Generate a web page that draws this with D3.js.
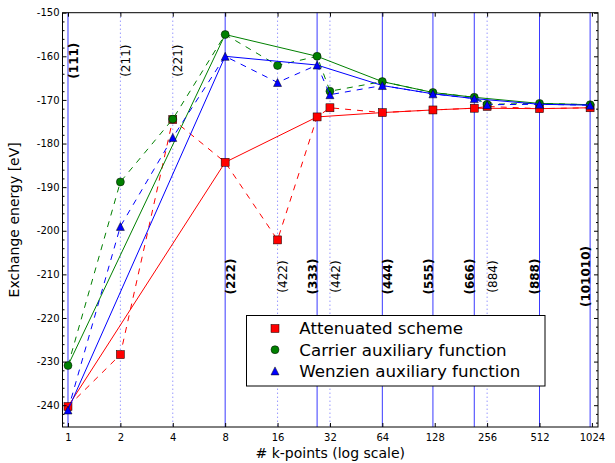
<!DOCTYPE html>
<html>
<head>
<meta charset="utf-8">
<script src="https://cdn.jsdelivr.net/npm/d3@7"></script>
<style>
  body { margin: 0; background: white; }
  text { font-family: "DejaVu Sans", sans-serif; fill: black; }
</style>
</head>
<body>
<div id="chart"></div>
<script>
// k-point meshes, in increasing number of k-points
const kpoints = [1, 2, 4, 8, 16, 27, 32, 64, 125, 216, 256, 512, 1000];
const meshes = ['(111)', '(211)', '(221)', '(222)', '(422)', '(333)', '(442)',
                '(444)', '(555)', '(666)', '(884)', '(888)', '(101010)'];
// cubic meshes get a solid line and a bold label
const cubic = [1, 8, 27, 64, 125, 216, 512, 1000];

// exchange energy [eV] for each mesh
const attenuated = [-240.3, -228.4, -174.5, -184.3, -202.1, -173.9, -171.8,
                    -172.9, -172.3, -171.9, -171.5, -172.0, -171.8];
const carrier    = [-230.9, -188.8, -174.4, -155.0, -162.1, -160.0, -168.0,
                    -165.8, -168.3, -169.4, -171.0, -170.8, -171.1];
const wenzien    = [-241.1, -199.0, -178.6, -160.0, -166.0, -162.0, -168.8,
                    -166.7, -168.6, -169.7, -171.1, -171.0, -171.2];

const seriesNames = ['Attenuated scheme', 'Carrier auxiliary function', 'Wenzien auxiliary function'];

const xTicks = [1, 2, 4, 8, 16, 32, 64, 128, 256, 512, 1024];
const yTicks = d3.range(-240, -149, 10);
const yMinorTicks = d3.range(-244, -149, 2).filter(v => v % 10 !== 0);

const svgWidth = 615;
const svgHeight = 463;

//plot area in pixels
const plot = { left: 62.5, top: 12.7, right: 598, bottom: 427 };

const xScale = d3.scaleLog().base(2).domain([0.93, 1110]).range([plot.left, plot.right]);
const yScale = d3.scaleLinear().domain([-245, -150]).range([plot.bottom, plot.top]);

const colors = ['#ff0000', '#008000', '#0000ff'];
const symbols = ['square', 'circle', 'triangle'];
const allSeries = [attenuated, carrier, wenzien];

const svg = d3.select('#chart')
              .append('svg')
              .attr('width', svgWidth)
              .attr('height', svgHeight);

//vertical lines for each mesh
const isCubic = k => cubic.includes(k);
svg.append('g').selectAll('line')
   .data(kpoints)
   .join('line')
   .attr('x1', d => xScale(d)).attr('x2', d => xScale(d))
   .attr('y1', plot.top).attr('y2', plot.bottom)
   .attr('stroke', d => isCubic(d) ? '#3a3aff' : '#6a6aff')
   .attr('stroke-width', 1)
   .attr('stroke-dasharray', d => isCubic(d) ? null : '1,3');

//mesh labels: small meshes near the top, the others lower down
const leftSide = ['(333)', '(555)', '(666)', '(888)', '(101010)'];
svg.append('g').selectAll('text')
   .data(kpoints)
   .join('text')
   .attr('transform', (d, i) => {
     const dx = leftSide.includes(meshes[i]) ? -4.5 : 5.5;
     const yv = d < 8 ? -161 : -210.5;
     return `translate(${xScale(d) + dx},${yScale(yv)}) rotate(-90)`;
   })
   .attr('text-anchor', 'middle')
   .attr('dy', '0.35em')
   .style('font-size', '12px')
   .style('font-weight', d => isCubic(d) ? 'bold' : 'normal')
   .text((d, i) => meshes[i]);

//marker shapes
const drawMarker = (sel, kind, color) => {
  if (kind === 'square') {
    sel.append('rect').attr('x', -4).attr('y', -4).attr('width', 8).attr('height', 8);
  } else if (kind === 'circle') {
    sel.append('circle').attr('r', 4);
  } else {
    sel.append('path').attr('d', 'M0,-4L4,4L-4,4Z');
  }
  sel.selectAll('*').attr('fill', color).attr('stroke', 'black').attr('stroke-width', 0.5);
};

const line = d3.line().x(d => xScale(d[0])).y(d => yScale(d[1]));

allSeries.forEach((values, s) => {
  const pts = kpoints.map((k, i) => [k, values[i]]);
  const g = svg.append('g');
  //solid line through cubic meshes
  g.append('path')
   .attr('d', line(pts.filter(p => isCubic(p[0]))))
   .attr('fill', 'none')
   .attr('stroke', colors[s])
   .attr('stroke-width', 1);
  //dashed line through all meshes
  g.append('path')
   .attr('d', line(pts))
   .attr('fill', 'none')
   .attr('stroke', colors[s])
   .attr('stroke-width', 1)
   .attr('stroke-dasharray', '6,6');
  g.selectAll('g.pt')
   .data(pts)
   .join('g')
   .attr('class', 'pt')
   .attr('transform', d => `translate(${xScale(d[0])},${yScale(d[1])})`)
   .each(function() { drawMarker(d3.select(this), symbols[s], colors[s]); });
});

//axes, ticks pointing inward on all four sides
const axes = svg.append('g').style('font-size', '14px');
axes.append('g')
    .attr('transform', `translate(0,${plot.bottom})`)
    .call(d3.axisBottom(xScale).tickValues(xTicks).tickFormat(d => d)
            .tickSizeInner(-4).tickSizeOuter(0).tickPadding(6.5));
axes.append('g')
    .attr('transform', `translate(0,${plot.top})`)
    .call(d3.axisTop(xScale).tickValues(xTicks).tickFormat('')
            .tickSizeInner(-4).tickSizeOuter(0));
axes.append('g')
    .attr('transform', `translate(${plot.left},0)`)
    .call(d3.axisLeft(yScale).tickValues(yTicks).tickFormat(d => d)
            .tickSizeInner(-4).tickSizeOuter(0).tickPadding(3));
axes.append('g')
    .attr('transform', `translate(${plot.left},0)`)
    .call(d3.axisLeft(yScale).tickValues(yMinorTicks).tickFormat('')
            .tickSizeInner(-2).tickSizeOuter(0));
axes.append('g')
    .attr('transform', `translate(${plot.right},0)`)
    .call(d3.axisRight(yScale).tickValues(yTicks).tickFormat('')
            .tickSizeInner(-4).tickSizeOuter(0));
axes.append('g')
    .attr('transform', `translate(${plot.right},0)`)
    .call(d3.axisRight(yScale).tickValues(yMinorTicks).tickFormat('')
            .tickSizeInner(-2).tickSizeOuter(0));
axes.selectAll('.domain').remove();
axes.selectAll('text').style('font-family', '"DejaVu Sans", sans-serif').attr('fill', 'black');

//frame
svg.append('rect')
   .attr('x', plot.left).attr('y', plot.top)
   .attr('width', plot.right - plot.left).attr('height', plot.bottom - plot.top)
   .attr('fill', 'none').attr('stroke', 'black').attr('stroke-width', 1);

//axis titles
svg.append('text')
   .attr('x', (plot.left + plot.right) / 2).attr('y', 458)
   .attr('text-anchor', 'middle')
   .style('font-size', '14px')
   .text('# k-points (log scale)');
svg.append('text')
   .attr('transform', `translate(18.5,${(plot.top + plot.bottom) / 2}) rotate(-90)`)
   .attr('text-anchor', 'middle')
   .style('font-size', '14px')
   .text('Exchange energy [eV]');

//legend
const legend = svg.append('g').attr('transform', 'translate(246.5,315.5)');
legend.append('rect')
      .attr('width', 298.5).attr('height', 70.5)
      .attr('fill', 'white').attr('stroke', 'black').attr('stroke-width', 1);
seriesNames.forEach((name, s) => {
  const row = legend.append('g').attr('transform', `translate(0,${13 + s * 21.2})`);
  const m = row.append('g').attr('transform', 'translate(28.5,0)');
  drawMarker(m, symbols[s], colors[s]);
  row.append('text')
     .attr('x', 52.8).attr('dy', '0.35em')
     .style('font-size', '16.7px')
     .text(name);
});
</script>
</body>
</html>
